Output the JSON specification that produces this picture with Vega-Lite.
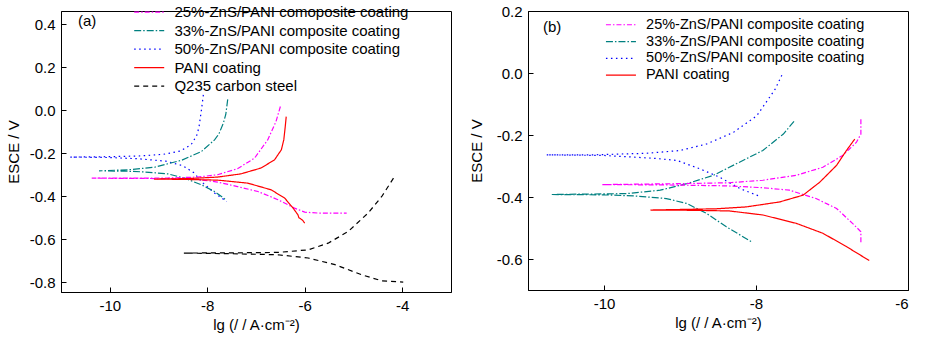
{
  "$schema": "https://vega.github.io/schema/vega-lite/v6.json",
  "padding": {"left": 5, "top": 3, "right": 0, "bottom": 0},
  "background": "white",
  "config": {
    "locale": {"number": {"decimal": ".", "thousands": ",", "grouping": [3], "currency": ["", ""], "minus": "-"}},
    "view": {"stroke": "black", "strokeWidth": 1},
    "axis": {"labelFont": "Liberation Sans", "titleFont": "Liberation Sans", "labelFontSize": 15, "titleFontSize": 15, "titleFontWeight": "normal", "labelColor": "black", "titleColor": "black", "domainColor": "black", "tickColor": "black", "tickSize": -5, "grid": false, "labelPadding": 11}
  },
  "datasets": {
    "a": [
      {"s": "50%", "o": 1, "x": -8.08, "y": 0.071}, {"s": "50%", "o": 2, "x": -8.12, "y": 0.0}, {"s": "50%", "o": 3, "x": -8.17, "y": -0.08}, {"s": "50%", "o": 4, "x": -8.22, "y": -0.12}, {"s": "50%", "o": 5, "x": -8.33, "y": -0.16}, {"s": "50%", "o": 6, "x": -8.55, "y": -0.19}, {"s": "50%", "o": 7, "x": -8.9, "y": -0.205}, {"s": "50%", "o": 8, "x": -9.4, "y": -0.213}, {"s": "50%", "o": 9, "x": -10.0, "y": -0.216}, {"s": "50%", "o": 10, "x": -10.81, "y": -0.218}, {"s": "50%", "o": 11, "x": -10.0, "y": -0.22}, {"s": "50%", "o": 12, "x": -9.4, "y": -0.226}, {"s": "50%", "o": 13, "x": -8.85, "y": -0.237}, {"s": "50%", "o": 14, "x": -8.5, "y": -0.258}, {"s": "50%", "o": 15, "x": -8.28, "y": -0.29}, {"s": "50%", "o": 16, "x": -8.08, "y": -0.34}, {"s": "50%", "o": 17, "x": -7.85, "y": -0.385}, {"s": "50%", "o": 18, "x": -7.6, "y": -0.425},
      {"s": "33%", "o": 1, "x": -7.58, "y": 0.05}, {"s": "33%", "o": 2, "x": -7.62, "y": -0.02}, {"s": "33%", "o": 3, "x": -7.67, "y": -0.06}, {"s": "33%", "o": 4, "x": -7.76, "y": -0.11}, {"s": "33%", "o": 5, "x": -7.85, "y": -0.138}, {"s": "33%", "o": 6, "x": -8.12, "y": -0.192}, {"s": "33%", "o": 7, "x": -8.53, "y": -0.233}, {"s": "33%", "o": 8, "x": -9.08, "y": -0.265}, {"s": "33%", "o": 9, "x": -9.63, "y": -0.277}, {"s": "33%", "o": 10, "x": -10.22, "y": -0.282}, {"s": "33%", "o": 11, "x": -9.6, "y": -0.284}, {"s": "33%", "o": 12, "x": -9.29, "y": -0.287}, {"s": "33%", "o": 13, "x": -8.81, "y": -0.296}, {"s": "33%", "o": 14, "x": -8.46, "y": -0.316}, {"s": "33%", "o": 15, "x": -8.12, "y": -0.347}, {"s": "33%", "o": 16, "x": -7.85, "y": -0.378}, {"s": "33%", "o": 17, "x": -7.62, "y": -0.416},
      {"s": "25%", "o": 1, "x": -6.5, "y": 0.017}, {"s": "25%", "o": 2, "x": -6.59, "y": -0.053}, {"s": "25%", "o": 3, "x": -6.76, "y": -0.138}, {"s": "25%", "o": 4, "x": -7.03, "y": -0.223}, {"s": "25%", "o": 5, "x": -7.38, "y": -0.272}, {"s": "25%", "o": 6, "x": -7.79, "y": -0.3}, {"s": "25%", "o": 7, "x": -8.2, "y": -0.311}, {"s": "25%", "o": 8, "x": -8.8, "y": -0.315}, {"s": "25%", "o": 9, "x": -9.5, "y": -0.316}, {"s": "25%", "o": 10, "x": -10.37, "y": -0.316}, {"s": "25%", "o": 11, "x": -9.5, "y": -0.317}, {"s": "25%", "o": 12, "x": -8.8, "y": -0.318}, {"s": "25%", "o": 13, "x": -8.2, "y": -0.322}, {"s": "25%", "o": 14, "x": -7.79, "y": -0.334}, {"s": "25%", "o": 15, "x": -7.38, "y": -0.355}, {"s": "25%", "o": 16, "x": -6.96, "y": -0.378}, {"s": "25%", "o": 17, "x": -6.55, "y": -0.416}, {"s": "25%", "o": 18, "x": -6.21, "y": -0.455}, {"s": "25%", "o": 19, "x": -6.0, "y": -0.474}, {"s": "25%", "o": 20, "x": -5.73, "y": -0.478}, {"s": "25%", "o": 21, "x": -5.14, "y": -0.478},
      {"s": "PANI", "o": 1, "x": -6.38, "y": -0.03}, {"s": "PANI", "o": 2, "x": -6.4, "y": -0.076}, {"s": "PANI", "o": 3, "x": -6.43, "y": -0.138}, {"s": "PANI", "o": 4, "x": -6.48, "y": -0.184}, {"s": "PANI", "o": 5, "x": -6.62, "y": -0.231}, {"s": "PANI", "o": 6, "x": -6.9, "y": -0.269}, {"s": "PANI", "o": 7, "x": -7.31, "y": -0.296}, {"s": "PANI", "o": 8, "x": -7.79, "y": -0.311}, {"s": "PANI", "o": 9, "x": -8.4, "y": -0.318}, {"s": "PANI", "o": 10, "x": -9.09, "y": -0.32}, {"s": "PANI", "o": 11, "x": -8.4, "y": -0.322}, {"s": "PANI", "o": 12, "x": -7.79, "y": -0.325}, {"s": "PANI", "o": 13, "x": -7.17, "y": -0.339}, {"s": "PANI", "o": 14, "x": -6.69, "y": -0.37}, {"s": "PANI", "o": 15, "x": -6.41, "y": -0.409}, {"s": "PANI", "o": 16, "x": -6.24, "y": -0.455}, {"s": "PANI", "o": 17, "x": -6.14, "y": -0.486}, {"s": "PANI", "o": 18, "x": -6.12, "y": -0.5}, {"s": "PANI", "o": 19, "x": -6.05, "y": -0.51}, {"s": "PANI", "o": 20, "x": -6.0, "y": -0.525},
      {"s": "Q235", "o": 1, "x": -4.18, "y": -0.316}, {"s": "Q235", "o": 2, "x": -4.42, "y": -0.401}, {"s": "Q235", "o": 3, "x": -4.7, "y": -0.478}, {"s": "Q235", "o": 4, "x": -5.11, "y": -0.564}, {"s": "Q235", "o": 5, "x": -5.52, "y": -0.618}, {"s": "Q235", "o": 6, "x": -5.93, "y": -0.649}, {"s": "Q235", "o": 7, "x": -6.55, "y": -0.661}, {"s": "Q235", "o": 8, "x": -7.5, "y": -0.663}, {"s": "Q235", "o": 9, "x": -8.48, "y": -0.664}, {"s": "Q235", "o": 10, "x": -7.5, "y": -0.667}, {"s": "Q235", "o": 11, "x": -6.55, "y": -0.672}, {"s": "Q235", "o": 12, "x": -5.93, "y": -0.687}, {"s": "Q235", "o": 13, "x": -5.38, "y": -0.718}, {"s": "Q235", "o": 14, "x": -4.83, "y": -0.765}, {"s": "Q235", "o": 15, "x": -4.42, "y": -0.793}, {"s": "Q235", "o": 16, "x": -3.98, "y": -0.799}
    ],
    "b": [
      {"s": "50%", "o": 1, "x": -7.66, "y": -0.007}, {"s": "50%", "o": 2, "x": -7.75, "y": -0.053}, {"s": "50%", "o": 3, "x": -7.99, "y": -0.138}, {"s": "50%", "o": 4, "x": -8.3, "y": -0.192}, {"s": "50%", "o": 5, "x": -8.65, "y": -0.229}, {"s": "50%", "o": 6, "x": -9.0, "y": -0.25}, {"s": "50%", "o": 7, "x": -9.44, "y": -0.259}, {"s": "50%", "o": 8, "x": -10.14, "y": -0.264}, {"s": "50%", "o": 9, "x": -10.76, "y": -0.264}, {"s": "50%", "o": 10, "x": -10.0, "y": -0.266}, {"s": "50%", "o": 11, "x": -9.35, "y": -0.275}, {"s": "50%", "o": 12, "x": -9.04, "y": -0.282}, {"s": "50%", "o": 13, "x": -8.74, "y": -0.309}, {"s": "50%", "o": 14, "x": -8.48, "y": -0.336}, {"s": "50%", "o": 15, "x": -8.21, "y": -0.373}, {"s": "50%", "o": 16, "x": -7.97, "y": -0.396},
      {"s": "33%", "o": 1, "x": -7.5, "y": -0.156}, {"s": "33%", "o": 2, "x": -7.64, "y": -0.197}, {"s": "33%", "o": 3, "x": -7.91, "y": -0.25}, {"s": "33%", "o": 4, "x": -8.26, "y": -0.293}, {"s": "33%", "o": 5, "x": -8.56, "y": -0.33}, {"s": "33%", "o": 6, "x": -8.91, "y": -0.357}, {"s": "33%", "o": 7, "x": -9.26, "y": -0.378}, {"s": "33%", "o": 8, "x": -9.7, "y": -0.389}, {"s": "33%", "o": 9, "x": -10.69, "y": -0.392}, {"s": "33%", "o": 10, "x": -10.0, "y": -0.393}, {"s": "33%", "o": 11, "x": -9.57, "y": -0.397}, {"s": "33%", "o": 12, "x": -9.18, "y": -0.405}, {"s": "33%", "o": 13, "x": -8.91, "y": -0.421}, {"s": "33%", "o": 14, "x": -8.65, "y": -0.453}, {"s": "33%", "o": 15, "x": -8.39, "y": -0.496}, {"s": "33%", "o": 16, "x": -8.05, "y": -0.546},
      {"s": "25%", "o": 1, "x": -6.62, "y": -0.149}, {"s": "25%", "o": 2, "x": -6.62, "y": -0.197}, {"s": "25%", "o": 3, "x": -6.68, "y": -0.224}, {"s": "25%", "o": 4, "x": -6.86, "y": -0.266}, {"s": "25%", "o": 5, "x": -7.12, "y": -0.304}, {"s": "25%", "o": 6, "x": -7.47, "y": -0.33}, {"s": "25%", "o": 7, "x": -7.91, "y": -0.346}, {"s": "25%", "o": 8, "x": -8.35, "y": -0.354}, {"s": "25%", "o": 9, "x": -9.04, "y": -0.357}, {"s": "25%", "o": 10, "x": -10.03, "y": -0.36}, {"s": "25%", "o": 11, "x": -9.2, "y": -0.361}, {"s": "25%", "o": 12, "x": -8.39, "y": -0.364}, {"s": "25%", "o": 13, "x": -7.91, "y": -0.37}, {"s": "25%", "o": 14, "x": -7.56, "y": -0.378}, {"s": "25%", "o": 15, "x": -7.21, "y": -0.405}, {"s": "25%", "o": 16, "x": -6.94, "y": -0.437}, {"s": "25%", "o": 17, "x": -6.73, "y": -0.485}, {"s": "25%", "o": 18, "x": -6.62, "y": -0.512}, {"s": "25%", "o": 19, "x": -6.62, "y": -0.549},
      {"s": "PANI", "o": 1, "x": -6.7, "y": -0.213}, {"s": "PANI", "o": 2, "x": -6.81, "y": -0.25}, {"s": "PANI", "o": 3, "x": -6.94, "y": -0.298}, {"s": "PANI", "o": 4, "x": -7.16, "y": -0.352}, {"s": "PANI", "o": 5, "x": -7.38, "y": -0.394}, {"s": "PANI", "o": 6, "x": -7.69, "y": -0.416}, {"s": "PANI", "o": 7, "x": -8.13, "y": -0.432}, {"s": "PANI", "o": 8, "x": -8.52, "y": -0.438}, {"s": "PANI", "o": 9, "x": -9.39, "y": -0.442}, {"s": "PANI", "o": 10, "x": -8.8, "y": -0.443}, {"s": "PANI", "o": 11, "x": -8.35, "y": -0.445}, {"s": "PANI", "o": 12, "x": -7.91, "y": -0.458}, {"s": "PANI", "o": 13, "x": -7.47, "y": -0.485}, {"s": "PANI", "o": 14, "x": -7.12, "y": -0.517}, {"s": "PANI", "o": 15, "x": -6.81, "y": -0.56}, {"s": "PANI", "o": 16, "x": -6.51, "y": -0.605}
    ]
  },
  "columns": 2,
  "align": "none",
  "spacing": 16,
  "resolve": {"scale": {"color": "independent", "strokeDash": "independent"}, "legend": {"color": "independent", "strokeDash": "independent"}},
  "concat": [
    {
      "width": 390, "height": 281,
      "data": {"name": "a"},
      "title": {"text": "(a)", "anchor": "start", "frame": "group", "offset": -24, "dx": 17, "fontSize": 15, "fontWeight": "normal", "font": "Liberation Sans", "color": "black"},
      "mark": {"type": "line", "strokeWidth": 1.2, "clip": true},
      "encoding": {
        "x": {"field": "x", "type": "quantitative", "scale": {"domain": [-11, -3], "nice": false, "zero": false}, "axis": {"values": [-10, -8, -6, -4], "format": "d", "title": "lg (/ / A·cm⁻²)", "titlePadding": 4}},
        "y": {"field": "y", "type": "quantitative", "scale": {"domain": [-0.845, 0.461], "nice": false, "zero": false}, "axis": {"values": [-0.8, -0.6, -0.4, -0.2, 0, 0.2, 0.4], "format": ".1f", "title": "ESCE / V", "titlePadding": 8}},
        "order": {"field": "o", "type": "quantitative"},
        "color": {"field": "s", "type": "nominal", "scale": {"domain": ["25%", "33%", "50%", "PANI", "Q235"], "range": ["#FF00FF", "#008080", "#0000FF", "#FF0000", "#000000"]},
          "legend": {"title": null, "orient": "none", "legendX": 70.7, "legendY": -6.3, "symbolType": "M-3,0H3", "symbolSize": 100, "symbolStrokeWidth": 1.2, "symbolOffset": 10, "labelOffset": 17.7, "labelFontSize": 15, "labelFont": "Liberation Sans", "labelColor": "black", "labelLimit": 0, "rowPadding": 2.5, "padding": 0,
            "labelExpr": "{'25%': '25%-ZnS/PANI comoposite coating', '33%': '33%-ZnS/PANI composite coating', '50%': '50%-ZnS/PANI composite coating', 'PANI': 'PANI coating', 'Q235': 'Q235 carbon steel'}[datum.value]"}},
        "strokeDash": {"field": "s", "type": "nominal", "scale": {"domain": ["25%", "33%", "50%", "PANI", "Q235"], "range": [[5, 2, 1.5, 2], [7, 2, 1.5, 2], [1.5, 3.5], [1, 0], [5, 4]]},
          "legend": {"title": null, "orient": "none", "legendX": 70.7, "legendY": -6.3, "symbolType": "M-3,0H3", "symbolSize": 100, "symbolStrokeWidth": 1.2, "symbolOffset": 10, "labelOffset": 17.7, "labelFontSize": 15, "labelFont": "Liberation Sans", "labelColor": "black", "labelLimit": 0, "rowPadding": 2.5, "padding": 0,
            "labelExpr": "{'25%': '25%-ZnS/PANI comoposite coating', '33%': '33%-ZnS/PANI composite coating', '50%': '50%-ZnS/PANI composite coating', 'PANI': 'PANI coating', 'Q235': 'Q235 carbon steel'}[datum.value]"}}
      }
    },
    {
      "width": 380, "height": 279,
      "data": {"name": "b"},
      "title": {"text": "(b)", "anchor": "start", "frame": "group", "offset": -30.5, "dx": 15, "fontSize": 15, "fontWeight": "normal", "font": "Liberation Sans", "color": "black"},
      "mark": {"type": "line", "strokeWidth": 1.2, "clip": true},
      "encoding": {
        "x": {"field": "x", "type": "quantitative", "scale": {"domain": [-11, -6], "nice": false, "zero": false}, "axis": {"values": [-10, -8, -6], "format": "d", "title": "lg (/ / A·cm⁻²)", "titlePadding": 4}},
        "y": {"field": "y", "type": "quantitative", "scale": {"domain": [-0.7, 0.2], "nice": false, "zero": false}, "axis": {"values": [-0.6, -0.4, -0.2, 0, 0.2], "format": ".1f", "title": "ESCE / V", "titlePadding": 12}},
        "order": {"field": "o", "type": "quantitative"},
        "color": {"field": "s", "type": "nominal", "scale": {"domain": ["25%", "33%", "50%", "PANI"], "range": ["#FF00FF", "#008080", "#0000FF", "#FF0000"]},
          "legend": {"title": null, "orient": "none", "legendX": 75.7, "legendY": 6.5, "symbolType": "M-3,0H3", "symbolSize": 100, "symbolStrokeWidth": 1.2, "symbolOffset": 10, "labelOffset": 17.9, "labelFontSize": 14.5, "labelFont": "Liberation Sans", "labelColor": "black", "labelLimit": 0, "rowPadding": 1.8, "padding": 0,
            "labelExpr": "{'25%': '25%-ZnS/PANI composite coating', '33%': '33%-ZnS/PANI composite coating', '50%': '50%-ZnS/PANI composite coating', 'PANI': 'PANI coating'}[datum.value]"}},
        "strokeDash": {"field": "s", "type": "nominal", "scale": {"domain": ["25%", "33%", "50%", "PANI"], "range": [[5, 2, 1.5, 2], [7, 2, 1.5, 2], [1.5, 3.5], [1, 0]]},
          "legend": {"title": null, "orient": "none", "legendX": 75.7, "legendY": 6.5, "symbolType": "M-3,0H3", "symbolSize": 100, "symbolStrokeWidth": 1.2, "symbolOffset": 10, "labelOffset": 17.9, "labelFontSize": 14.5, "labelFont": "Liberation Sans", "labelColor": "black", "labelLimit": 0, "rowPadding": 1.8, "padding": 0,
            "labelExpr": "{'25%': '25%-ZnS/PANI composite coating', '33%': '33%-ZnS/PANI composite coating', '50%': '50%-ZnS/PANI composite coating', 'PANI': 'PANI coating'}[datum.value]"}}
      }
    }
  ]
}
